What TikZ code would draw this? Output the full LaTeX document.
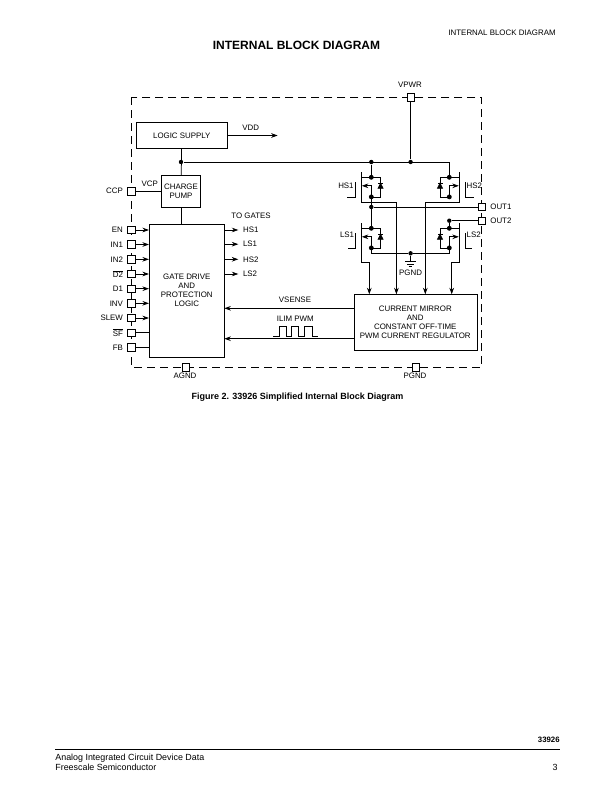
\documentclass[tikz,border=0pt]{standalone}
\usepackage{fontspec}
\setmainfont{Liberation Sans}
\usetikzlibrary{arrows.meta}

% one power switch: #1 name, #2 x, #3 y of top rail, #4 side, #5 channel end, #6 gate lead
\newcommand{\powerfet}[6]{
  \begin{scope}[shift={(#2,#3)},xscale=#4]
    \draw (-10.3,-5) -- (-10.3,#5);
    \draw (-15.6,5) -- (-15.6,20) -- (#6,20);
    \draw (-10.3,0) -- (9.3,0) -- (9.3,20) -- (0,20);
    \draw[arrow] (0,20) -- (0,8.5) -- (-9.5,8.5);
    \filldraw (9.3,8.5) ++(-2.5,2.5) -- ++(5,0) -- ++(-2.5,-5) -- cycle;
    \draw (6.8,6) -- (11.8,6);
    \filldraw (0,0) circle (2);
    \filldraw (0,19.6) circle (2);
    \coordinate (#1top) at (0,0);
    \coordinate (#1src) at (0,20);
    \coordinate (#1end) at (-10.3,#5);
  \end{scope}
}

\begin{document}
\begin{tikzpicture}[x=1bp,y=-1bp,line width=0.75bp,font=\fontsize{7.9bp}{9bp}\selectfont,
    arrow/.style = {-{Stealth[length=6.5bp,width=4.6bp]}},
    block/.style = {draw,fill=white,align=center,inner sep=0pt},
    pad/.style = {draw,fill=white,minimum size=7.4bp,inner sep=0pt},
    tag/.style = {inner sep=0pt,align=center},
    dot/.style = {circle,fill=black,minimum size=4.4bp,inner sep=0pt}]
  \useasboundingbox (0,0) rectangle (612,792);

  % page texts
  \node[tag,font=\fontsize{12bp}{14bp}\selectfont\bfseries] (title) at (296.5,45) {INTERNAL BLOCK DIAGRAM};
  \node[tag,anchor=east,font=\fontsize{7.9bp}{9bp}\selectfont] (header) at (556,33) {INTERNAL BLOCK DIAGRAM};
  \node[tag,font=\fontsize{9bp}{10bp}\selectfont\bfseries] (caption) at (297.5,397) {Figure 2. 33926 Simplified Internal Block Diagram};
  \node[tag,anchor=east,font=\fontsize{7.8bp}{9bp}\selectfont\bfseries] (partno) at (560,740) {33926};
  \coordinate (ruleL) at (55,749.5);
  \coordinate (ruleR) at (560,749.5);
  \draw[line width=1bp] (ruleL) -- (ruleR);
  \node[tag,anchor=west,font=\fontsize{8.9bp}{10bp}\selectfont] (foot1) at (55,758) {Analog Integrated Circuit Device Data};
  \node[tag,anchor=west,font=\fontsize{8.9bp}{10bp}\selectfont] (foot2) at (55,767) {Freescale Semiconductor};
  \node[tag,anchor=east,font=\fontsize{8.9bp}{10bp}\selectfont] (pageno) at (558,767) {3};

  % device outline
  \draw[dash pattern=on 8bp off 5bp] (131,97.3) rectangle (481.7,367.3);

  % blocks
  \node[block,minimum width=91bp,minimum height=26.4bp] (logic) at (181.8,135.5) {LOGIC SUPPLY};
  \node[block,minimum width=39.4bp,minimum height=32bp] (pump) at (181,191.3) {CHARGE\\PUMP};
  \node[block,minimum width=75bp,minimum height=133.4bp] (gate) at (186.8,291) {};
  \node[tag] (gatetxt) at (186.8,289.9) {GATE DRIVE\\AND\\PROTECTION\\LOGIC};
  \node[block,minimum width=123.4bp,minimum height=56bp] (mirror) at (416,322.3) {};
  \node[tag] (mirrortxt) at (415.3,322) {CURRENT MIRROR\\AND\\CONSTANT OFF-TIME\\PWM CURRENT REGULATOR};

  % pads round the outline
  \node[pad] (vpwr) at (410.6,97.3) {};
  \node[pad] (ccp) at (131.3,191.3) {};
  \node[pad] (agnd) at (186,367.3) {};
  \node[pad] (pgndpad) at (416,367.3) {};
  \node[pad] (out1) at (482,207) {};
  \node[pad] (out2) at (482,220.7) {};
  \node[tag] at (410,84.3) {VPWR};
  \node[tag,anchor=east] at (123.3,190.7) {CCP};
  \node[tag] at (185,375.8) {AGND};
  \node[tag] at (415,375.8) {PGND};
  \node[tag,anchor=west] at (490,206.7) {OUT1};
  \node[tag,anchor=west] at (490,221) {OUT2};

  % gate block inputs
  \foreach \n/\y/\t in {en/230/EN,inone/244.5/IN1,intwo/259.3/IN2,dtwo/274/{$\overline{\mbox{D2}}$},done/288.7/D1,inv/303.3/INV,slew/318/SLEW}{
    \node[pad] (\n) at (131.3,\y) {};
    \node[tag,anchor=east] at (123.3,\y) {\t};
    \draw[arrow] (\n) -- (\n -| gate.west);
  }
  \foreach \n/\y/\t in {sf/332.7/{$\overline{\mbox{SF}}$},fb/347.3/FB}{
    \node[pad] (\n) at (131.3,\y) {};
    \node[tag,anchor=east] at (123.3,\y) {\t};
    \draw (\n) -- (\n -| gate.west);
  }

  % gate block outputs
  \node[tag] at (251,216) {TO GATES};
  \foreach \n/\y/\t in {hsone/230/HS1,lsone/244.2/LS1,hstwo/259.3/HS2,lstwo/274/LS2}{
    \coordinate (\n) at (238.3,\y);
    \node[tag,anchor=west] at (242.7,\y) {\t};
    \draw[arrow] (\n -| gate.east) -- (\n);
  }

  % supply rail
  \draw (logic) -- (pump);
  \draw (pump) -- (gate.north -| pump);
  \draw (ccp) -- (pump);
  \node[tag] at (149.7,184) {VCP};
  \coordinate (vdd) at (277.7,135.5);
  \draw[arrow] (logic.east |- vdd) -- (vdd);
  \node[tag] at (250.7,128) {VDD};
  \node[dot] (rail) at (181,162) {};
  \node[dot] (railA) at (371.3,162) {};
  \node[dot] (railB) at (410.6,162) {};
  \coordinate (railC) at (449.3,162);
  \draw (rail) -- (railC);
  \draw (vpwr) -- (railB);

  % power switches
  \powerfet{hsa}{371.3}{177.3}{1}{25}{-24.6}
  \powerfet{lsa}{371.3}{228.3}{1}{34}{-23}
  \powerfet{hsb}{449.3}{177.3}{-1}{25}{-25}
  \powerfet{lsb}{449.3}{228.3}{-1}{34}{-23}
  \node[tag,anchor=east] at (354,186) {HS1};
  \node[tag,anchor=east] at (354.5,235) {LS1};
  \node[tag,anchor=west] at (466.3,186) {HS2};
  \node[tag,anchor=west] at (466.3,235) {LS2};

  \draw (railA) -- (hsatop);
  \draw (railC) -- (hsbtop);
  \draw (hsasrc) -- (lsatop);

  % output nodes
  \node[dot] (nodeA) at (371.3,207) {};
  \node[dot] (nodeB) at (449.3,220.7) {};
  \draw (nodeA) -- (out1);
  \draw (nodeB) -- (out2);
  \draw (nodeB) -- (lsbtop);

  % power ground
  \node[dot] (gnd) at (410.6,253.3) {};
  \coordinate (gndA) at (410.6,261.7);
  \draw (lsasrc) |- (gnd) -| (lsbsrc);
  \draw (gnd) -- (gndA);
  \draw (405,261.7) -- (416,261.7);
  \draw (407.3,264.2) -- (414,264.2);
  \draw (408.7,266.7) -- (412.4,266.7);
  \node[tag] at (410.6,272.5) {PGND};

  % sense lines into the mirror
  \coordinate (sa) at (396.4,294.3);
  \coordinate (sb) at (425.3,294.3);
  \coordinate (sc) at (369.3,294.3);
  \coordinate (sd) at (451.7,294.3);
  \draw[arrow] (hsaend) -| (sa);
  \draw[arrow] (hsbend) -| (sb);
  \draw[arrow] (lsaend) -| (sc);
  \draw[arrow] (lsbend) -| (sd);

  % feedback to the gate block
  \coordinate (vs) at (224.3,308.3);
  \coordinate (il) at (224.3,338.7);
  \draw[arrow] (mirror.west |- vs) -- (vs);
  \draw[arrow] (mirror.west |- il) -- (il);
  \node[tag] at (295,300) {VSENSE};
  \node[tag] at (295.3,318.3) {ILIM PWM};
  \draw (273.3,336) -- (279.3,336) -- (279.3,326.7) -- (286.7,326.7) -- (286.7,336) -- (291,336)
    -- (291,326.7) -- (298.7,326.7) -- (298.7,336) -- (304.7,336) -- (304.7,326.7) -- (312.7,326.7)
    -- (312.7,336) -- (318,336);
\end{tikzpicture}
\end{document}
